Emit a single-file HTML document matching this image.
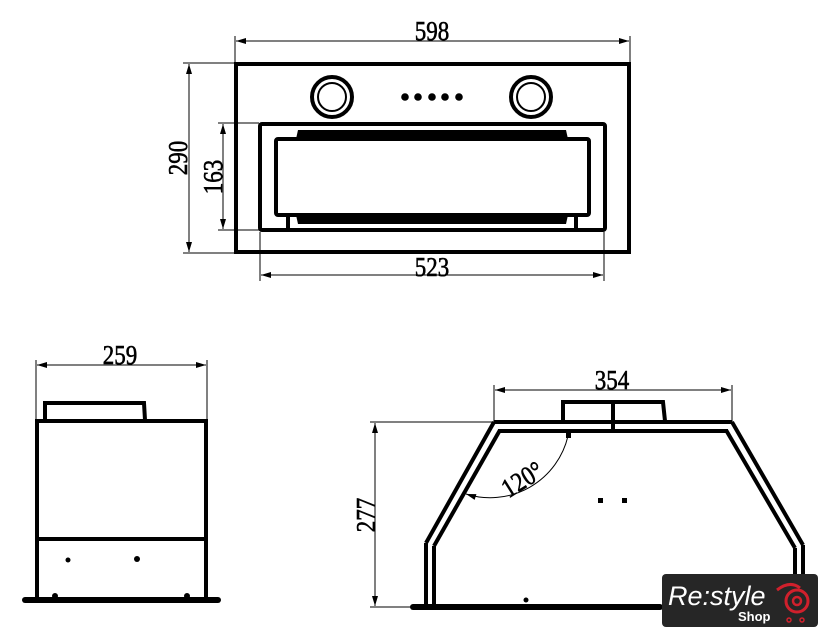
<!DOCTYPE html>
<html><head><meta charset="utf-8"><style>
html,body{margin:0;padding:0;background:#fff;}
svg{display:block;}
text{font-family:"Liberation Serif",serif;fill:#000;}
.d{stroke:#000;stroke-width:0.6;}
</style></head><body>
<svg width="840" height="638" viewBox="0 0 840 638" xmlns="http://www.w3.org/2000/svg">
<defs>
<marker id="a" viewBox="0 0 10 6" refX="10" refY="3" markerWidth="12" markerHeight="6" orient="auto-start-reverse" markerUnits="userSpaceOnUse"><path d="M0,0 L10,3 L0,6 z" fill="#000"/></marker>
</defs>
<g stroke="#000" fill="none">
<line x1="235" y1="36" x2="235" y2="63" stroke-width="1"/>
<line x1="630" y1="36" x2="630" y2="63" stroke-width="1"/>
<line x1="236" y1="41" x2="629" y2="41" stroke-width="1" marker-start="url(#a)" marker-end="url(#a)"/>
<line x1="183" y1="63" x2="234" y2="63" stroke-width="1"/>
<line x1="183" y1="253" x2="234" y2="253" stroke-width="1"/>
<line x1="189" y1="64" x2="189" y2="252" stroke-width="1" marker-start="url(#a)" marker-end="url(#a)"/>
<line x1="218" y1="123" x2="259" y2="123" stroke-width="1"/>
<line x1="218" y1="230" x2="259" y2="230" stroke-width="1"/>
<line x1="223" y1="124" x2="223" y2="229" stroke-width="1" marker-start="url(#a)" marker-end="url(#a)"/>
<line x1="260" y1="232" x2="260" y2="281" stroke-width="1"/>
<line x1="604" y1="232" x2="604" y2="281" stroke-width="1"/>
<line x1="261" y1="275" x2="603" y2="275" stroke-width="1" marker-start="url(#a)" marker-end="url(#a)"/>
<rect x="236" y="64" width="393" height="188" stroke-width="4"/>
<circle cx="332" cy="97" r="20" stroke-width="4"/>
<circle cx="332" cy="97" r="14" stroke-width="2"/>
<circle cx="531" cy="97" r="20" stroke-width="4"/>
<circle cx="531" cy="97" r="14" stroke-width="2"/>
<rect x="260" y="124" width="345" height="106" stroke-width="4" rx="2"/>
<rect x="276" y="139" width="313" height="76" stroke-width="4" rx="2"/>
<line x1="288" y1="215" x2="288" y2="230" stroke-width="4"/>
<line x1="576" y1="215" x2="576" y2="230" stroke-width="4"/>
</g>
<path d="M298,130 L566,130 L568,139 L296,139 z" fill="#000"/>
<path d="M296,215 L568,215 L566,224 L298,224 z" fill="#000"/>
<g fill="#000">
<circle cx="405" cy="97" r="3.8"/><circle cx="418" cy="97" r="3.8"/><circle cx="432" cy="97" r="3.8"/><circle cx="445" cy="97" r="3.8"/><circle cx="459" cy="97" r="3.8"/>
</g>
<text class="d" font-size="27" text-anchor="middle" transform="translate(432 40) scale(0.85 1)">598</text>
<text class="d" font-size="27" text-anchor="middle" transform="translate(432 276) scale(0.85 1)">523</text>
<text class="d" font-size="27" text-anchor="middle" transform="translate(187 158) rotate(-90) scale(0.85 1)">290</text>
<text class="d" font-size="27" text-anchor="middle" transform="translate(222 177) rotate(-90) scale(0.85 1)">163</text>

<g stroke="#000" fill="none">
<line x1="36" y1="360" x2="36" y2="420" stroke-width="1"/>
<line x1="207" y1="360" x2="207" y2="420" stroke-width="1"/>
<line x1="37" y1="365" x2="206" y2="365" stroke-width="1" marker-start="url(#a)" marker-end="url(#a)"/>
<path d="M45,420 L45,403 L144,403 L145,420" stroke-width="4"/>
<rect x="37" y="421" width="169" height="178" stroke-width="4"/>
<line x1="37" y1="539" x2="206" y2="539" stroke-width="4"/>
<line x1="25" y1="600" x2="218" y2="600" stroke-width="6" stroke-linecap="round"/>
</g>
<circle cx="68" cy="560" r="2.5" fill="#000"/><circle cx="137" cy="559" r="3" fill="#000"/>
<circle cx="55" cy="596" r="3" fill="#000"/><circle cx="187" cy="596" r="3" fill="#000"/>
<text class="d" font-size="27" text-anchor="middle" transform="translate(120 364) scale(0.85 1)">259</text>

<g stroke="#000" fill="none">
<line x1="494" y1="385" x2="494" y2="422" stroke-width="1"/>
<line x1="732" y1="385" x2="732" y2="422" stroke-width="1"/>
<line x1="495" y1="390" x2="731" y2="390" stroke-width="1" marker-start="url(#a)" marker-end="url(#a)"/>
<line x1="370" y1="422" x2="494" y2="422" stroke-width="1"/>
<line x1="370" y1="607" x2="412" y2="607" stroke-width="1"/>
<line x1="375" y1="423" x2="375" y2="606" stroke-width="1" marker-start="url(#a)" marker-end="url(#a)"/>
<path d="M563,421 L563,402 L663,402 L665,421" stroke-width="4"/>
<line x1="613" y1="402" x2="613" y2="430" stroke-width="4"/>
<line x1="494" y1="422" x2="732" y2="422" stroke-width="4"/>
<line x1="498" y1="431" x2="728" y2="431" stroke-width="4"/>
<line x1="494" y1="422" x2="426" y2="543" stroke-width="4"/>
<line x1="500" y1="430" x2="434" y2="546" stroke-width="4"/>
<line x1="426" y1="543" x2="426" y2="604" stroke-width="4"/>
<line x1="434" y1="546" x2="434" y2="604" stroke-width="4"/>
<line x1="732" y1="422" x2="803" y2="545" stroke-width="4"/>
<line x1="726" y1="430" x2="795" y2="548" stroke-width="4"/>
<line x1="795" y1="548" x2="795" y2="575" stroke-width="4"/>
<line x1="803" y1="545" x2="803" y2="575" stroke-width="4"/>
<line x1="413" y1="607" x2="660" y2="607" stroke-width="6" stroke-linecap="round"/>
<path d="M568,436 A80,80 0 0 1 466,494" stroke-width="1" marker-end="url(#a)"/>
</g>
<rect x="566" y="432" width="5" height="6" fill="#000"/>
<rect x="598" y="498" width="5" height="5" fill="#000"/><rect x="622" y="498" width="5" height="5" fill="#000"/>
<circle cx="526" cy="600" r="2.5" fill="#000"/>
<text class="d" font-size="27" text-anchor="middle" transform="translate(612 389) scale(0.85 1)">354</text>
<text class="d" font-size="27" text-anchor="middle" transform="translate(375 515) rotate(-90) scale(0.85 1)">277</text>
<text class="d" font-size="27" text-anchor="middle" transform="translate(527 487) rotate(-32) scale(0.85 1)">120°</text>

<rect x="662" y="574" width="156" height="53" rx="4" fill="#262626"/>
<text x="668" y="605" font-size="27" font-style="italic" style="font-family:'Liberation Sans',sans-serif;fill:#fff">Re:style</text>
<text x="738" y="621" font-size="13" font-weight="bold" style="font-family:'Liberation Sans',sans-serif;fill:#fff">Shop</text>
<path d="M777,590 Q790,580 800,588" fill="none" stroke="#d0202c" stroke-width="3"/>
<circle cx="797" cy="601" r="11" fill="none" stroke="#d0202c" stroke-width="3"/>
<circle cx="797" cy="601" r="4" fill="none" stroke="#d0202c" stroke-width="2.5"/>
<circle cx="789" cy="620" r="2" fill="none" stroke="#d0202c" stroke-width="1.5"/>
<circle cx="802" cy="620" r="2" fill="none" stroke="#d0202c" stroke-width="1.5"/>
</svg>
</body></html>
